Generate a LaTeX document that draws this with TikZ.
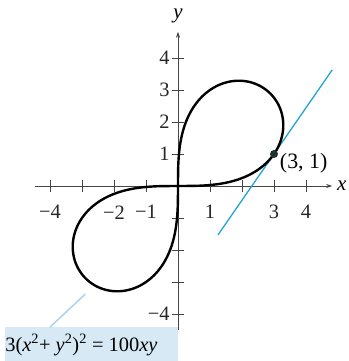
\documentclass[tikz,border=0pt]{standalone}
\usepackage{fontspec}
\setmainfont{Liberation Serif}
\usetikzlibrary{arrows.meta}
\definecolor{tanblue}{RGB}{35,165,215}
\definecolor{boxblue}{RGB}{214,233,245}
\definecolor{ptrblue}{RGB}{175,212,236}
\definecolor{axgray}{RGB}{70,70,70}
\definecolor{ptcol}{RGB}{30,50,50}
\tikzset{
  axisline/.style={axgray, line width=0.9bp},
  tickmark/.style={axgray, line width=0.8bp},
  ticklbl/.style={font=\fontsize{20.5}{22}\selectfont, text=black!85, inner sep=0pt},
  curve/.style={black, line width=2.4bp, line join=round},
  tangentline/.style={tanblue, line width=1.3bp},
}
\begin{document}
\begin{tikzpicture}[x=32bp,y=32bp]
\useasboundingbox (-5.5625,-5.46875) rectangle (5.34375,5.8125);
% equation box
\node[fill=boxblue, minimum width=173bp, minimum height=34bp, inner sep=0pt, anchor=north west] (eqbox) at (-5.41,-4.41) {};
\node[font=\fontsize{20.5}{22}\selectfont, anchor=west, inner sep=0pt] (eq) at (-5.40,-4.97) {3(\textit{x}\textsuperscript{2}+ \textit{y}\textsuperscript{2})\textsuperscript{2} = 100\textit{xy}};
\coordinate (ptrA) at (-4.0,-4.41);
\coordinate (ptrB) at (-2.9,-3.38);
\draw[ptrblue, line width=1.6bp] (ptrA) -- (ptrB);
% axes
\coordinate (xl) at (-4.47,0);
\coordinate (xr) at (4.82,0);
\coordinate (yb) at (0,-4.5);
\coordinate (yt) at (0,4.82);
\draw[axisline, -{Stealth[length=6bp,width=4bp]}] (xl) -- (xr);
\draw[axisline, -{Stealth[length=6bp,width=4bp]}] (yb) -- (yt);
\node[font=\fontsize{21}{23}\selectfont\itshape, inner sep=0pt] (xlab) at (5.12,0) {x};
\node[font=\fontsize{21}{23}\selectfont\itshape, inner sep=0pt] (ylab) at (0,5.3) {y};
% ticks
\foreach \t in {-4,-3,-2,-1,1,2,3,4}{
  \draw[tickmark] (\t,-0.2) -- (\t,0.2);
  \draw[tickmark] (-0.2,\t) -- (0.2,\t);
}
\foreach \t/\l in {-4/−4,-2/−2,-1/−1,1/1,3/3,4/4}{
  \node[ticklbl] (xt\t) at (\t,-0.82) {\l};
}
\foreach \t in {1,2,3,4}{
  \node[ticklbl, anchor=east] (yt\t) at (-0.26,\t) {\t};
}
\node[ticklbl, anchor=east] (ytm4) at (-0.26,-4) {−4};
% tangent line
\coordinate (tA) at (1.25,{1+13/9*(1.25-3)});
\coordinate (tB) at (4.82,{1+13/9*(4.82-3)});
\draw[tangentline] (tA) -- (tB);
% curve 3(x^2+y^2)^2 = 100xy  ->  r^2 = (50/3) sin 2t
\draw[curve] plot[domain=0:90, samples=240, smooth] ({sqrt(abs(50/3*sin(2*\x)))*cos(\x)}, {sqrt(abs(50/3*sin(2*\x)))*sin(\x)});
\draw[curve] plot[domain=180:270, samples=240, smooth] ({sqrt(abs(50/3*sin(2*\x)))*cos(\x)}, {sqrt(abs(50/3*sin(2*\x)))*sin(\x)});
% point
\node[circle, fill=ptcol, inner sep=0pt, minimum size=8bp] (pt) at (3,1) {};
\node[font=\fontsize{22}{24}\selectfont, anchor=west, inner sep=0pt] (ptlab) at (3.18,0.72) {(3, 1)};
\end{tikzpicture}
\end{document}
